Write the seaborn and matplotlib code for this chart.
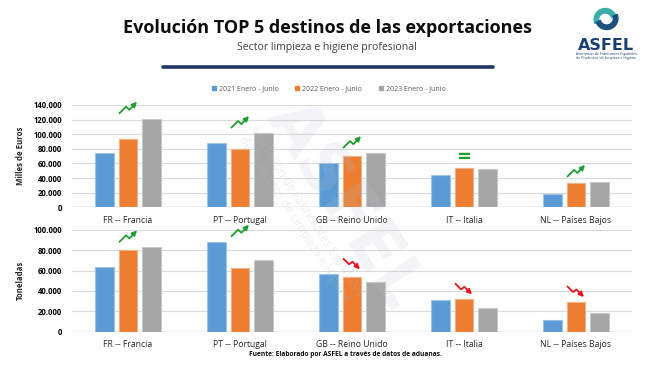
import numpy as np
import pandas as pd
import matplotlib
matplotlib.use('Agg')
import matplotlib.pyplot as plt
import seaborn as sns
from matplotlib.lines import Line2D
from matplotlib.patches import Wedge
from matplotlib.ticker import FuncFormatter

# Data
categories = ['FR -- Francia', 'PT -- Portugal', 'GB -- Reino Unido', 'IT -- Italia', 'NL -- Países Bajos']
periods = ['2021 Enero - Junio', '2022 Enero - Junio', '2023 Enero - Junio']

euros_2021 = [74100, 87800, 60400, 43900, 17800]
euros_2022 = [93700, 80000, 70800, 53500, 33000]
euros_2023 = [121200, 101600, 74100, 52200, 34700]

tons_2021 = [63700, 88200, 56300, 31400, 11800]
tons_2022 = [80000, 62400, 53900, 31700, 29100]
tons_2023 = [82700, 70000, 49000, 23200, 18600]

trend_euros = ['up', 'up', 'up', 'eq', 'up']
trend_tons = ['up', 'up', 'down', 'down', 'down']

colors = ['#5B9BD5', '#ED7D31', '#A5A5A5']
edge_colors = ['#9DC3E6', '#F4B183', '#C9C9C9']
green = '#1E9E2E'
red = '#E8141B'
navy = '#1F3864'


def long_table(series):
    rows = []
    for period, values in zip(periods, series):
        for cat, v in zip(categories, values):
            rows.append({'pais': cat, 'periodo': period, 'valor': v})
    return pd.DataFrame(rows)


euros = long_table([euros_2021, euros_2022, euros_2023])
tons = long_table([tons_2021, tons_2022, tons_2023])

sns.set_style('white')
plt.rcParams['font.family'] = ['Open Sans', 'DejaVu Sans']

W, H = 654, 368
fig = plt.figure(figsize=(W / 100, H / 100), dpi=100)

# axes in pixel geometry of the reference
ax1 = fig.add_axes([72 / W, 1 - 207.3 / H, 560 / W, 102.3 / H])
ax2 = fig.add_axes([72 / W, 1 - 331.7 / H, 560 / W, 102.0 / H])


def thousands(v, pos):
    return f'{int(v):,}'.replace(',', '.')


def draw_icon(ax, i, ybase, kind, ymax, axh):
    py = ymax / axh   # data units per pixel (y)
    px = 1 / 112.0    # data units per pixel (x)
    if kind == 'eq':
        ax.text(i, ybase - 3 * py, '=', color=green, fontsize=13, fontweight='bold',
                ha='center', va='bottom', zorder=5, family='DejaVu Sans', clip_on=False)
        return
    if kind == 'up':
        pts = [(-9, 0), (-2, 7), (1.5, 4), (9, 12)]
        col = green
    else:
        pts = [(-9, 11), (-3, 5), (0.5, 7.5), (8, 0)]
        col = red
    xs = [i + p[0] * px for p in pts]
    ys = [ybase + p[1] * py for p in pts]
    ax.plot(xs[:-1], ys[:-1], color=col, lw=1.3, solid_capstyle='butt', zorder=5,
            clip_on=False)
    ax.annotate('', xy=(xs[-1], ys[-1]), xytext=(xs[-2], ys[-2]),
                arrowprops=dict(arrowstyle='-|>', color=col, lw=1.3,
                                mutation_scale=7, shrinkA=0, shrinkB=0),
                zorder=5, annotation_clip=False)


panels = [
    (ax1, euros, 140000, 'Milles de Euros', trend_euros,
     [euros_2021, euros_2022, euros_2023]),
    (ax2, tons, 100000, 'Toneladas', trend_tons,
     [tons_2021, tons_2022, tons_2023]),
]

for ax, df, ymax, ylab, trends, series in panels:
    sns.barplot(data=df, x='pais', y='valor', hue='periodo', palette=colors,
                width=0.63, gap=0.2, ax=ax, legend=False, saturation=1,
                linewidth=0.8, zorder=3)
    for j, cont in enumerate(ax.containers):
        for bar in cont:
            bar.set_edgecolor(edge_colors[j])
    ax.set_ylim(0, ymax)
    ax.set_xlim(-0.5, len(categories) - 0.5)
    ax.set_yticks(np.arange(0, ymax + 1, 20000))
    ax.yaxis.set_major_formatter(FuncFormatter(thousands))
    ax.grid(axis='y', color='#D9D9D9', lw=0.8, zorder=0)
    ax.axhline(0, color='#C8C8C8', lw=1.0, zorder=2)
    for s in ax.spines.values():
        s.set_visible(False)
    ax.tick_params(axis='y', length=0, pad=7, labelsize=5.6, labelcolor='black')
    ax.tick_params(axis='x', length=0, pad=6, labelsize=6.2, labelcolor='#262626')
    for lab in ax.get_yticklabels():
        lab.set_fontweight('bold')
    ax.set_xlabel('')
    ax.set_ylabel(ylab, fontsize=5.6, fontweight='bold', labelpad=6)
    axh = 102.0
    for i, kind in enumerate(trends):
        top = max(s[i] for s in series) if kind != 'eq' else series[1][i]
        draw_icon(ax, i, top + 5 * ymax / axh, kind, ymax, axh)

# Legend
handles = [Line2D([], [], marker='s', ls='', color=c, markersize=3.5) for c in colors]
fig.legend(handles, periods, loc='center', bbox_to_anchor=(328 / W, 1 - 89 / H),
           ncol=3, frameon=False, fontsize=5, labelcolor='#595959',
           handletextpad=0.2, columnspacing=2.2, handlelength=1)

# Titles
fig.text(327 / W, 1 - 28 / H, 'Evolución TOP 5 destinos de las exportaciones',
         ha='center', va='center', fontsize=13, fontweight='bold', color='#0D0D0D')
fig.text(327 / W, 1 - 47.5 / H, 'Sector limpieza e higiene profesional',
         ha='center', va='center', fontsize=7.6, color='#404040')
fig.add_artist(Line2D([163 / W, 493 / W], [1 - 67 / H, 1 - 67 / H], color=navy,
                      lw=2.6, solid_capstyle='round'))

fig.text(345 / W, 1 - 354 / H, 'Fuente: Elaborado por ASFEL a través de datos de aduanas.',
         ha='center', va='center', fontsize=4.8, fontweight='bold', color='#0D0D0D')

# Logo
lax = fig.add_axes([585 / W, 1 - 33 / H, 42 / W, 28 / H])
lax.set_xlim(-1.5, 1.5)
lax.set_ylim(-1, 1)
lax.set_aspect('equal')
lax.axis('off')
lax.add_patch(Wedge((-0.05, -0.05), 0.8, 20, 200, width=0.32, color='#3BAFA5'))
lax.add_patch(Wedge((0.05, 0.05), 0.8, 200, 380, width=0.32, color='#1B4F80'))
fig.text(606 / W, 1 - 45 / H, 'ASFEL', ha='center', va='center', fontsize=11.5,
         fontweight='bold', color='#1B3F73', family='DejaVu Sans')
fig.text(606 / W, 1 - 56 / H,
         'Asociación de Fabricantes Españoles\nde Productos de Limpieza e Higiene',
         ha='center', va='center', fontsize=2.6, color='#1B3F73', linespacing=1.1)

# Watermark
fig.text(345 / W, 1 - 205 / H, 'ASFEL', ha='center', va='center', fontsize=48,
         fontweight='bold', color='#B4C1CF', alpha=0.17, rotation=-57,
         family='DejaVu Sans', zorder=10)
fig.text(300 / W, 1 - 215 / H,
         'Asociación de Fabricantes Españoles\nde Productos de Limpieza e Higiene',
         ha='center', va='center', fontsize=8.5, color='#B4C1CF', alpha=0.25,
         rotation=-57, zorder=10, linespacing=1.1)

fig.savefig('out.png', dpi=100)
